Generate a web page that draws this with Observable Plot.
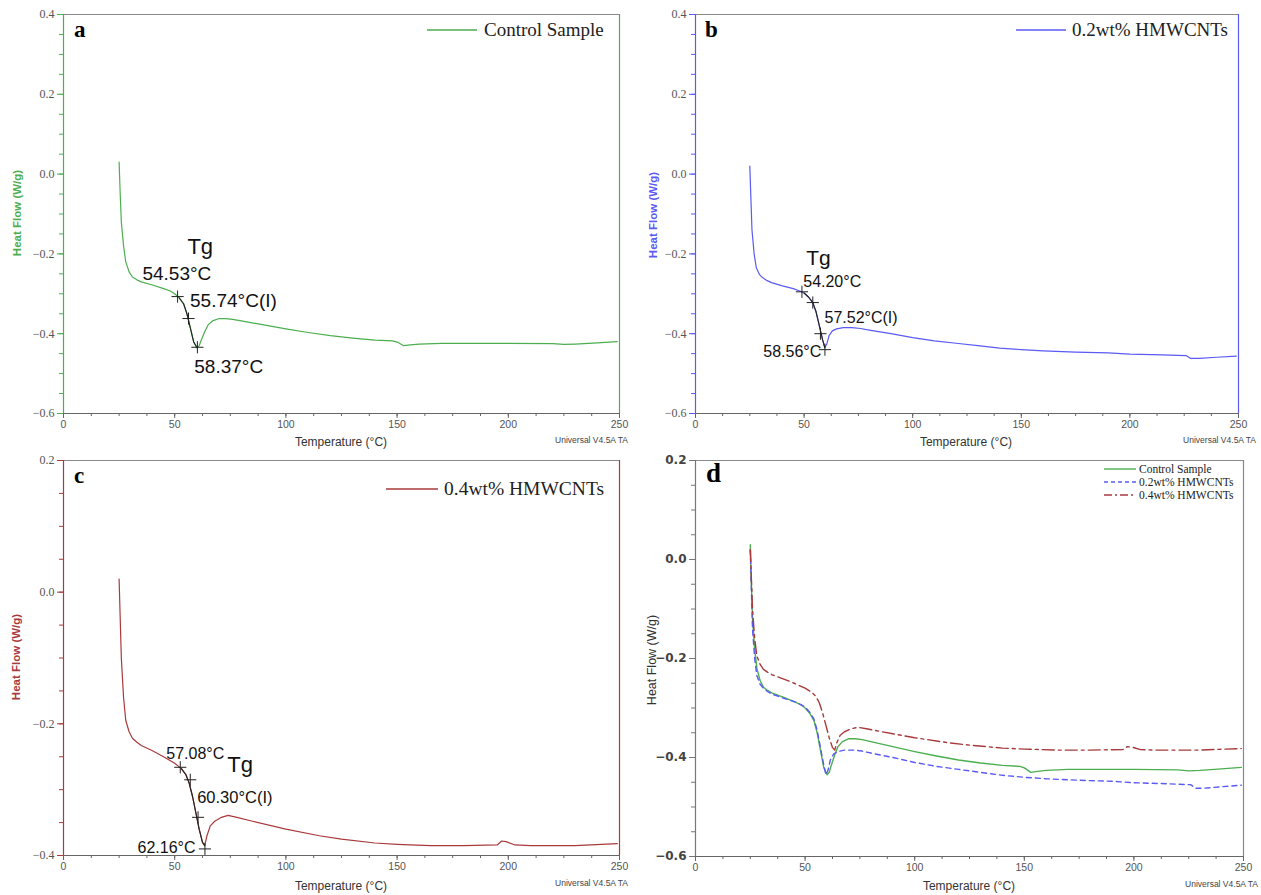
<!DOCTYPE html>
<html><head><meta charset="utf-8">
<script src="https://cdn.jsdelivr.net/npm/d3@7"></script>
<script src="https://cdn.jsdelivr.net/npm/@observablehq/plot@0.6"></script>
<style>
body{margin:0;background:#fff;}
#fig{position:relative;width:1261px;height:895px;font-family:"Liberation Sans",Arial,sans-serif;overflow:hidden;}
.panel{position:absolute;}
.abs{position:absolute;white-space:nowrap;}
.plab{font-family:"Liberation Serif",serif;font-weight:bold;font-size:23px;line-height:23px;}
.ylab{transform:translate(-50%,-50%) rotate(-90deg);font-size:11.5px;}
.xlab{transform:translateX(-50%);font-size:12px;color:#333;}
.univ{font-size:8.5px;color:#444;transform:translateX(-100%);}
.leg{display:flex;align-items:center;font-family:"Liberation Serif",serif;}
.serifY g[aria-label="y-axis tick label"]{font-family:"Liberation Serif","Times New Roman",serif;}
.sansY g[aria-label="y-axis tick label"]{font-family:"DejaVu Sans",Verdana,sans-serif;font-weight:bold;}
</style></head><body><div id="fig"></div>
<script>
// ---------- data ----------
const seriesNames = ["Control Sample", "0.2wt% HMWCNTs", "0.4wt% HMWCNTs"];
const seriesColors = ["#4cae4f", "#5a5af5", "#a83a3c"];

const tempControl = [25,25.5,26,27,28,29.5,31,33,35,40,45,48,50,52,54,55.5,57,58.5,60,61,62,63.5,65,67,70,73,76,80,90,100,110,120,130,140,148,150,153,156,160,170,180,200,220,225,230,240,249];
const heatControl = [0.03,-0.05,-0.12,-0.18,-0.22,-0.245,-0.258,-0.265,-0.27,-0.278,-0.287,-0.293,-0.3,-0.31,-0.325,-0.35,-0.385,-0.42,-0.435,-0.43,-0.415,-0.395,-0.378,-0.368,-0.362,-0.362,-0.364,-0.368,-0.378,-0.388,-0.397,-0.405,-0.411,-0.416,-0.418,-0.421,-0.43,-0.428,-0.426,-0.424,-0.424,-0.424,-0.425,-0.427,-0.426,-0.423,-0.42];

const temp02 = [25,25.5,26,27,28,29.5,31,33,35,40,45,48,50,52,54,55.5,57,58.5,59.5,60.5,61.5,63,65,68,72,76,80,90,100,110,120,130,140,150,160,175,190,200,215,226,228,232,240,249];
const heat02 = [0.02,-0.06,-0.14,-0.2,-0.235,-0.252,-0.26,-0.267,-0.272,-0.28,-0.287,-0.293,-0.298,-0.308,-0.322,-0.345,-0.38,-0.415,-0.435,-0.425,-0.405,-0.393,-0.388,-0.385,-0.385,-0.387,-0.391,-0.4,-0.41,-0.418,-0.424,-0.43,-0.436,-0.44,-0.443,-0.446,-0.448,-0.451,-0.453,-0.455,-0.462,-0.462,-0.459,-0.456];

const temp04 = [25,25.5,26,27,28,29.5,31,33,35,40,45,50,53,55,56.5,58,59.5,61,62.5,63.5,64.5,66,68,71,74,78,85,100,115,125,140,150,165,180,195,197,199,203,210,230,249];
const heat04 = [0.02,-0.04,-0.1,-0.16,-0.195,-0.212,-0.222,-0.228,-0.233,-0.241,-0.25,-0.26,-0.268,-0.277,-0.29,-0.31,-0.335,-0.36,-0.38,-0.385,-0.37,-0.355,-0.348,-0.342,-0.339,-0.342,-0.348,-0.36,-0.37,-0.375,-0.381,-0.383,-0.385,-0.385,-0.384,-0.378,-0.379,-0.384,-0.385,-0.385,-0.382];

const xMajor = [0,50,100,150,200,250];
const xMinor = d3.range(0, 250.1, 12.5);
const yMajorAB = [-0.6,-0.4,-0.2,0,0.2,0.4];
const yMajorC = [-0.4,-0.2,0,0.2];
const yMajorD = [-0.6,-0.4,-0.2,0,0.2];

// Tg annotations: label, x (°C), y (W/g), anchor, size
const annA = [
  {t:"Tg", x:61.5, y:-0.182, a:"middle", s:22},
  {t:"54.53°C", x:35.5, y:-0.25, a:"start", s:19},
  {t:"55.74°C(I)", x:56.9, y:-0.319, a:"start", s:19},
  {t:"58.37°C", x:58.8, y:-0.484, a:"start", s:19}
];
const annB = [
  {t:"Tg", x:56.6, y:-0.21, a:"middle", s:21},
  {t:"54.20°C", x:49.6, y:-0.27, a:"start", s:16},
  {t:"57.52°C(I)", x:59.4, y:-0.36, a:"start", s:16},
  {t:"58.56°C", x:57.9, y:-0.446, a:"end", s:16}
];
const annC = [
  {t:"57.08°C", x:46.2, y:-0.246, a:"start", s:16},
  {t:"Tg", x:79.4, y:-0.263, a:"middle", s:22},
  {t:"60.30°C(I)", x:60.1, y:-0.312, a:"start", s:16.5},
  {t:"62.16°C", x:33.3, y:-0.389, a:"start", s:16}
];
// tangent segment range and marker points
const tanA = [51.3, 60.2];  const marksA = [{x:51.3,y:-0.307},{x:56.2,y:-0.362},{x:60.2,y:-0.434}];
const tanB = [48.5, 59.8]; const marksB = [{x:49,y:-0.295},{x:54,y:-0.322},{x:57.52,y:-0.40},{x:59.6,y:-0.44}];
const tanC = [52, 63.8];  const marksC = [{x:52.5,y:-0.266},{x:57,y:-0.285},{x:60.5,y:-0.342},{x:63.6,y:-0.39}];

// ---------- build ----------
const rows = (ts, hs) => d3.zip(ts, hs).map(([t, h]) => ({t, h}));
const dataC = rows(tempControl, heatControl);
const data2 = rows(temp02, heat02);
const data4 = rows(temp04, heat04);
const fmtY = d => d.toFixed(1).replace("-", "\u2212");

function annMarks(ann, tan, pts, data) {
  const out = [
    Plot.line(data.filter(d => d.t >= tan[0] && d.t <= tan[1]), {x:"t", y:"h", stroke:"#222", strokeWidth:1.1}),
    Plot.dot(pts, {x:"x", y:"y", symbol:"plus", r:4, stroke:"#222", strokeWidth:1})
  ];
  for (const a of ann) {
    out.push(Plot.text([a], {x:"x", y:"y", text:"t", textAnchor:a.a, fontSize:a.s, fill:"#111", fontFamily:"Liberation Sans, Arial, sans-serif"}));
  }
  return out;
}

function panel({W, H, ml, mr, mt, mb, yDom, yMajor, axisColor, rightColor, cls, yFill, yWeight, lines, extra}) {
  const yMinor = d3.range(Math.round(yDom[0]*100), Math.round(yDom[1]*100)+1, 5).map(v => v/100);
  return Plot.plot({
    width: W, height: H, marginLeft: ml, marginRight: mr, marginTop: mt, marginBottom: mb,
    className: cls,
    x: {domain: [0, 250]}, y: {domain: yDom},
    style: {background: "transparent", overflow: "visible", fontFamily: "Liberation Sans, Arial, sans-serif"},
    marks: [
      Plot.ruleY([yDom[1]], {stroke: "#8a8a8a", strokeWidth: 1.2}),
      Plot.ruleX([250], {stroke: rightColor, strokeWidth: 1.2}),
      Plot.ruleY([yDom[0]], {stroke: "#666", strokeWidth: 1.2}),
      Plot.ruleX([0], {stroke: axisColor, strokeWidth: 1.2}),
      Plot.axisX(xMinor, {tickSize: 3, tickFormat: () => "", stroke: "#666", label: null}),
      Plot.axisX(xMajor, {tickSize: 5, tickPadding: 2, tickFormat: d => String(d), stroke: "#666", fill: "#555", fontSize: 10.5, label: null}),
      Plot.axisY(yMinor, {tickSize: 4, tickFormat: () => "", stroke: axisColor, label: null}),
      Plot.axisY(yMajor, {tickSize: 6, tickFormat: () => "", stroke: axisColor, label: null}),
      Plot.axisY(yMajor, {tickSize: 0, tickPadding: 9, tickFormat: fmtY, fill: yFill, fontSize: 12, fontWeight: yWeight, label: null}),
      ...lines,
      ...(extra || [])
    ]
  });
}

const fig = document.getElementById("fig");
function place(el, left, top) {
  const d = document.createElement("div");
  d.className = "panel"; d.style.left = left + "px"; d.style.top = top + "px";
  d.appendChild(el); fig.appendChild(d);
}
function html(s) { fig.insertAdjacentHTML("beforeend", s); }

// panel a
place(panel({W:630, H:450, ml:63, mr:11, mt:14, mb:37, yDom:[-0.6,0.4], yMajor:yMajorAB,
  axisColor: seriesColors[0], rightColor: seriesColors[0], cls: "serifY", yFill: "#555", yWeight: "normal",
  lines: [Plot.line(dataC, {x:"t", y:"h", stroke: seriesColors[0], strokeWidth: 1.2})],
  extra: annMarks(annA, tanA, marksA, dataC)}), 0, 0);
// panel b
place(panel({W:631, H:450, ml:65, mr:23, mt:14, mb:37, yDom:[-0.6,0.4], yMajor:yMajorAB,
  axisColor: seriesColors[1], rightColor: seriesColors[1], cls: "serifY", yFill: "#555", yWeight: "normal",
  lines: [Plot.line(data2, {x:"t", y:"h", stroke: seriesColors[1], strokeWidth: 1.2})],
  extra: annMarks(annB, tanB, marksB, data2)}), 630, 0);
// panel c
place(panel({W:630, H:445, ml:63, mr:11, mt:10, mb:40, yDom:[-0.4,0.2], yMajor:yMajorC,
  axisColor: seriesColors[2], rightColor: seriesColors[2], cls: "serifY", yFill: "#555", yWeight: "normal",
  lines: [Plot.line(data4, {x:"t", y:"h", stroke: seriesColors[2], strokeWidth: 1.2})],
  extra: annMarks(annC, tanC, marksC, data4)}), 0, 450);
// panel d
place(panel({W:631, H:445, ml:65, mr:18, mt:10, mb:39, yDom:[-0.6,0.2], yMajor:yMajorD,
  axisColor: "#777", rightColor: "#888", cls: "sansY", yFill: "#444", yWeight: "bold",
  lines: [
    Plot.line(dataC, {x:"t", y:"h", stroke: seriesColors[0], strokeWidth: 1.4}),
    Plot.line(data2, {x:"t", y:"h", stroke: seriesColors[1], strokeWidth: 1.4, strokeDasharray: "5,4"}),
    Plot.line(data4, {x:"t", y:"h", stroke: seriesColors[2], strokeWidth: 1.4, strokeDasharray: "12,4,3,4"})
  ]}), 630, 450);

// panel letters
html(`<div class="abs plab" style="left:74px;top:18px">a</div>`);
html(`<div class="abs plab" style="left:705px;top:18px">b</div>`);
html(`<div class="abs plab" style="left:74px;top:464px">c</div>`);
html(`<div class="abs plab" style="left:706px;top:462px;font-size:27px">d</div>`);

// axis titles
const xl = [[341,435],[966,435],[341,879],[969,879]];
for (const [x,y] of xl) html(`<div class="abs xlab" style="left:${x}px;top:${y}px">Temperature (°C)</div>`);
const ul = [[628,435],[1256,435],[628,878],[1258,879]];
for (const [x,y] of ul) html(`<div class="abs univ" style="left:${x}px;top:${y}px">Universal V4.5A TA</div>`);
html(`<div class="abs ylab" style="left:17px;top:213px;color:${seriesColors[0]};font-weight:bold">Heat Flow (W/g)</div>`);
html(`<div class="abs ylab" style="left:653px;top:215px;color:${seriesColors[1]};font-weight:bold">Heat Flow (W/g)</div>`);
html(`<div class="abs ylab" style="left:16px;top:657px;color:${seriesColors[2]};font-weight:bold">Heat Flow (W/g)</div>`);
html(`<div class="abs ylab" style="left:652px;top:660px;color:#333;font-size:12.5px">Heat Flow (W/g)</div>`);

// legends
function legend(left, top, w, color, dash, text, size, gap) {
  html(`<div class="abs leg" style="left:${left}px;top:${top}px;height:${size+4}px;font-size:${size}px;color:#222">
    <svg width="${w}" height="4"><line x1="0" x2="${w}" y1="2" y2="2" stroke="${color}" stroke-width="1.4" ${dash ? `stroke-dasharray="${dash}"` : ""}/></svg>
    <span style="margin-left:${gap}px">${text}</span></div>`);
}
legend(427, 18, 50, seriesColors[0], null, seriesNames[0], 19, 7);
legend(1016, 18, 50, seriesColors[1], null, seriesNames[1], 19, 6);
legend(386, 477, 52, seriesColors[2], null, seriesNames[2], 19.5, 6);
legend(1104, 461, 32, seriesColors[0], null, seriesNames[0], 11.5, 3);
legend(1104, 474, 32, seriesColors[1], "4,3", seriesNames[1], 11.5, 3);
legend(1104, 487, 32, seriesColors[2], "8,3,2,3", seriesNames[2], 11.5, 3);
</script></body></html>
